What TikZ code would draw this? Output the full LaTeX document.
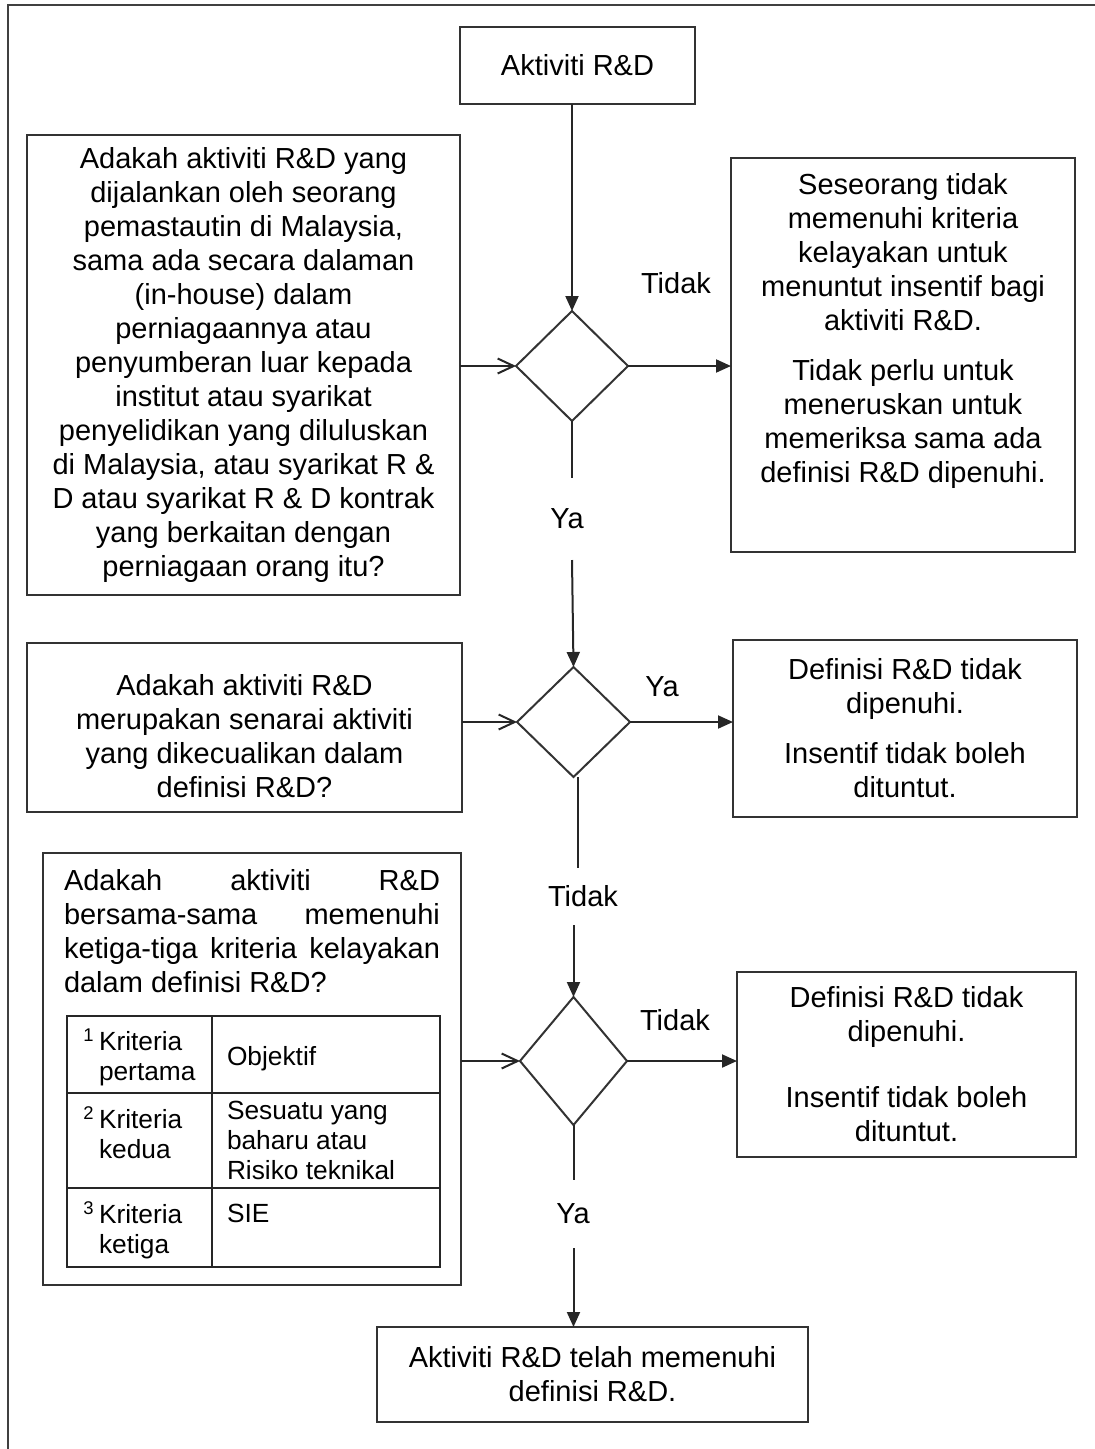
\documentclass[tikz,border=0pt]{standalone}
\usepackage{fontspec}
\setmainfont{Liberation Sans}
\usetikzlibrary{arrows.meta,shapes.geometric,calc}
\begin{document}
\begin{tikzpicture}[x=1pt,y=-1pt,
  box/.style={draw=black!80, line width=2pt, rectangle, inner sep=0pt, outer sep=0pt, align=center, font=\fontsize{29pt}{34pt}\selectfont},
  txt/.style={inner sep=0pt, outer sep=0pt, align=center, font=\fontsize{29pt}{34pt}\selectfont},
  dec/.style={draw=black!80, line width=2pt, diamond, inner sep=0pt, outer sep=0pt},
  lbl/.style={inner sep=0pt, outer sep=0pt, font=\fontsize{29pt}{34pt}\selectfont},
  tbl/.style={inner sep=0pt, outer sep=0pt, align=left, anchor=west, font=\fontsize{26.3pt}{30pt}\selectfont},
  arr/.style={draw=black!85, line width=2pt, -{Triangle[length=15pt,width=13pt]}},
  inarr/.style={draw=black!85, line width=2pt, -{Straight Barb[length=16pt,width=15pt]}},
  ln/.style={draw=black!85, line width=2pt}
]
\useasboundingbox (0,0) rectangle (1095,1449);
% outer frame (only top and left edges visible)
\draw[black!75, line width=2.5pt] (1095,5) -- (8,5) -- (8,1449);

% nodes
\node[box, minimum width=235pt, minimum height=77pt] (start) at (577.5,65.5) {Aktiviti R\&D};

\node[box, minimum width=433pt, minimum height=460pt] (q1) at (243.5,365) {Adakah aktiviti R\&D yang\\dijalankan oleh seorang\\pemastautin di Malaysia,\\sama ada secara dalaman\\(in-house) dalam\\perniagaannya atau\\penyumberan luar kepada\\institut atau syarikat\\penyelidikan yang diluluskan\\di Malaysia, atau syarikat R \&\\D atau syarikat R \& D kontrak\\yang berkaitan dengan\\perniagaan orang itu?};

\node[box, minimum width=344pt, minimum height=394pt] (r1) at (903,355) {};
\node[txt] (r1t) at (903,330.5) {Seseorang tidak\\memenuhi kriteria\\kelayakan untuk\\menuntut insentif bagi\\aktiviti R\&D.\\[16pt]Tidak perlu untuk\\meneruskan untuk\\memeriksa sama ada\\definisi R\&D dipenuhi.};

\node[dec, minimum width=112pt, minimum height=110pt] (d1) at (572,366) {};
\node[lbl] (tidak1) at (676,283) {Tidak};
\node[lbl, minimum height=82pt] (ya1) at (567,519) {Ya};

\node[box, minimum width=435pt, minimum height=169pt] (q2) at (244.5,727.5) {};
\node[txt] (q2t) at (244.5,736.5) {Adakah aktiviti R\&D\\merupakan senarai aktiviti\\yang dikecualikan dalam\\definisi R\&D?};
\node[dec, minimum width=113pt, minimum height=110pt] (d2) at (573.5,722) {};
\node[box, minimum width=344pt, minimum height=177pt] (r2) at (905,728.5) {Definisi R\&D tidak\\dipenuhi.\\[16pt]Insentif tidak boleh\\dituntut.};
\node[lbl] (ya2) at (662,687) {Ya};
\node[lbl, minimum height=57pt] (tidak2) at (583,896.5) {Tidak};

\node[box, minimum width=418pt, minimum height=432pt] (q3) at (252,1069) {};
\node[txt, align=left, anchor=west] (q3t) at (64,931) {\hbox to 376pt{Adakah\hfill aktiviti\hfill R\&D}\\\hbox to 376pt{bersama-sama\hfill memenuhi}\\\hbox to 376pt{ketiga-tiga\hfill kriteria\hfill kelayakan}\\dalam definisi R\&D?};

% criteria table
\draw[draw=black!85, line width=2pt] (67,1015.5) rectangle (439.5,1267);
\draw[draw=black!85, line width=2pt] (212,1015.5) -- (212,1267);
\draw[draw=black!85, line width=2pt] (67,1093) -- (439.5,1093);
\draw[draw=black!85, line width=2pt] (67,1188) -- (439.5,1188);
\node[tbl] (k1) at (99,1057) {\llap{\textsuperscript{1}\hspace{5pt}}Kriteria\\pertama};
\node[tbl] (k2) at (99,1133) {\llap{\textsuperscript{2}\hspace{5pt}}Kriteria\\kedua};
\node[tbl] (k3) at (99,1230) {\llap{\textsuperscript{3}\hspace{5pt}}Kriteria\\ketiga};
\node[tbl, anchor=base west] (v1) at (227,1065) {Objektif};
\node[tbl] (v2) at (227,1140.5) {Sesuatu yang\\baharu atau\\Risiko teknikal};
\node[tbl, anchor=base west] (v3) at (227,1222) {SIE};

\node[dec, minimum width=107pt, minimum height=128pt] (d3) at (573.5,1061) {};
\node[box, minimum width=339pt, minimum height=185pt] (r3) at (906.5,1064.5) {Definisi R\&D tidak\\dipenuhi.\\[32pt]Insentif tidak boleh\\dituntut.};
\node[lbl] (tidak3) at (675,1020) {Tidak};
\node[lbl, minimum height=68pt] (ya3) at (573,1214) {Ya};

\node[box, minimum width=431pt, minimum height=95pt] (end) at (592.5,1374.5) {Aktiviti R\&D telah memenuhi\\definisi R\&D.};

% connectors
\coordinate (d2s) at ($(d2.south)+(4.5,0)$);
\draw[arr] (d1.north |- start.south) -- (d1.north);
\draw[inarr] (d1.west -| q1.east) -- (d1.west);
\draw[arr] (d1.east) -- (d1.east -| r1.west);
\draw[ln] (d1.south) -- (d1.south |- ya1.north);
\draw[arr] (d1.south |- ya1.south) -- (d2.north);
\draw[inarr] (d2.west -| q2.east) -- (d2.west);
\draw[arr] (d2.east) -- (d2.east -| r2.west);
\draw[ln] (d2s) -- (d2s |- tidak2.north);
\draw[arr] (d3.north |- tidak2.south) -- (d3.north);
\draw[inarr] (d3.west -| q3.east) -- (d3.west);
\draw[arr] (d3.east) -- (d3.east -| r3.west);
\draw[ln] (d3.south) -- (d3.south |- ya3.north);
\draw[arr] (d3.south |- ya3.south) -- (d3.south |- end.north);
\end{tikzpicture}
\end{document}
